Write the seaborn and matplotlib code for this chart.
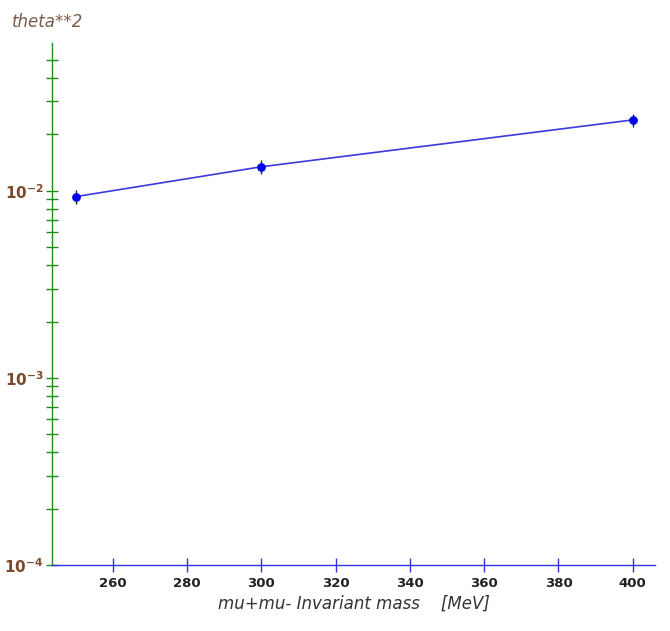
import matplotlib
matplotlib.use("Agg")
import matplotlib.pyplot as plt
import seaborn as sns
import numpy as np
import pandas as pd
from matplotlib.ticker import FixedLocator, NullFormatter

mass = [250, 300, 400]
theta2 = [0.0093, 0.01343, 0.0239]
theta2_err = [0.0008, 0.0011, 0.0019]
xticks = [260, 280, 300, 320, 340, 360, 380, 400]

sns.set_theme(style="white")
plt.rcParams['font.family'] = ['DejaVu Sans']

df = pd.DataFrame({"mass": mass, "theta2": theta2})
fig = plt.figure(figsize=(6.7, 6.31), dpi=100)
ax = fig.add_axes([0.0776, 0.1046, 0.9, 0.8273])

ax.errorbar(mass, theta2, yerr=theta2_err, fmt='none', ecolor='#222222', elinewidth=1.0, zorder=3)
sns.lineplot(data=df, x="mass", y="theta2", ax=ax, color='#3a3ae0', linewidth=1.2,
             marker='o', markersize=5.5, markerfacecolor='#0000ee', markeredgecolor='#0000ee', zorder=4)

ax.set_yscale('log')
ax.set_ylim(1e-4, 0.0616)
ax.set_xlim(243.6, 406)

ax.xaxis.set_major_locator(FixedLocator(xticks))
ax.set_xticklabels([str(t) for t in xticks], fontsize=9.5, fontweight='bold', color='#222222')
minor = [m * 10.0 ** e for e in (-4, -3, -2) for m in range(2, 10)]
minor = [v for v in minor if v < 0.055]
ax.yaxis.set_minor_locator(FixedLocator(minor))
ax.yaxis.set_minor_formatter(NullFormatter())
ax.set_yticks([1e-4, 1e-3, 1e-2])
ax.set_yticklabels([r'$\mathbf{10^{-4}}$', r'$\mathbf{10^{-3}}$', r'$\mathbf{10^{-2}}$'],
                   fontsize=11, color='#7a4a2a')

for s in ['top', 'right']:
    ax.spines[s].set_visible(False)
ax.spines['left'].set_color('#228822')
ax.spines['left'].set_linewidth(1.0)
ax.spines['bottom'].set_color('#3333dd')
ax.spines['bottom'].set_linewidth(1.0)

ax.tick_params(axis='y', which='both', direction='inout', length=8, width=1, color='#228822', pad=2, left=True)
ax.tick_params(axis='x', which='major', direction='inout', length=10, width=1, color='#3333dd', pad=4, bottom=True)
ax.tick_params(axis='x', which='minor', bottom=False)

ax.set_xlabel('mu+mu- Invariant mass    [MeV]', fontsize=12, fontstyle='italic', color='#333333', labelpad=3)
ax.set_ylabel('')
fig.text(0.018, 0.958, 'theta**2', fontsize=12, fontstyle='italic', color='#7a5a4a')

fig.savefig('out.png', dpi=100, facecolor='white')
